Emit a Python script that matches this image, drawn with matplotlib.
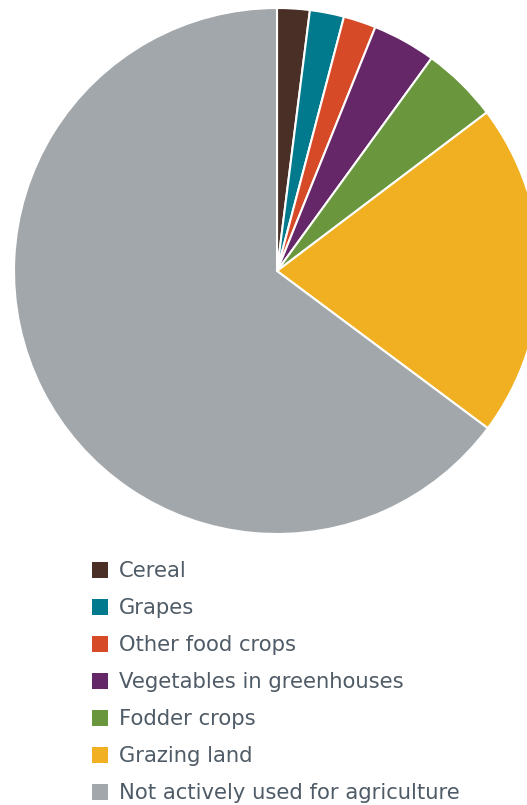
import matplotlib.pyplot as plt
from matplotlib.patches import Rectangle

labels = ['Cereal', 'Grapes', 'Other food crops', 'Vegetables in greenhouses',
          'Fodder crops', 'Grazing land', 'Not actively used for agriculture']
values = [2.0, 2.1, 2.0, 3.9, 4.7, 20.5, 64.8]
colors = ['#4a2f27', '#007a8c', '#d64a28', '#652768', '#6a963d', '#f0b021', '#a2a7ab']

W, H = 527, 805
fig = plt.figure(figsize=(W / 100, H / 100), dpi=100)

# pie centred at (277, 271) px with radius 263 px, runs off the right edge
cx, cy, r = 277, 271, 263
ax = fig.add_axes([(cx - r) / W, 1 - (cy + r) / H, 2 * r / W, 2 * r / H])
ax.pie(values, colors=colors, startangle=90, counterclock=False,
       wedgeprops=dict(edgecolor='white', linewidth=1.5))
ax.set_xlim(-1, 1)
ax.set_ylim(-1, 1)
ax.set_aspect('equal')

# legend drawn by hand
for i, (lab, col) in enumerate(zip(labels, colors)):
    y = 570 + 37 * i
    fig.add_artist(Rectangle((92 / W, 1 - (y + 8) / H), 16 / W, 16 / H,
                             transform=fig.transFigure, facecolor=col, edgecolor='none'))
    fig.text(119 / W, 1 - (y + 1) / H, lab, fontsize=15.2, color='#4f5b66',
             va='center', ha='left', family='DejaVu Sans')

fig.savefig('out.png', dpi=100)
